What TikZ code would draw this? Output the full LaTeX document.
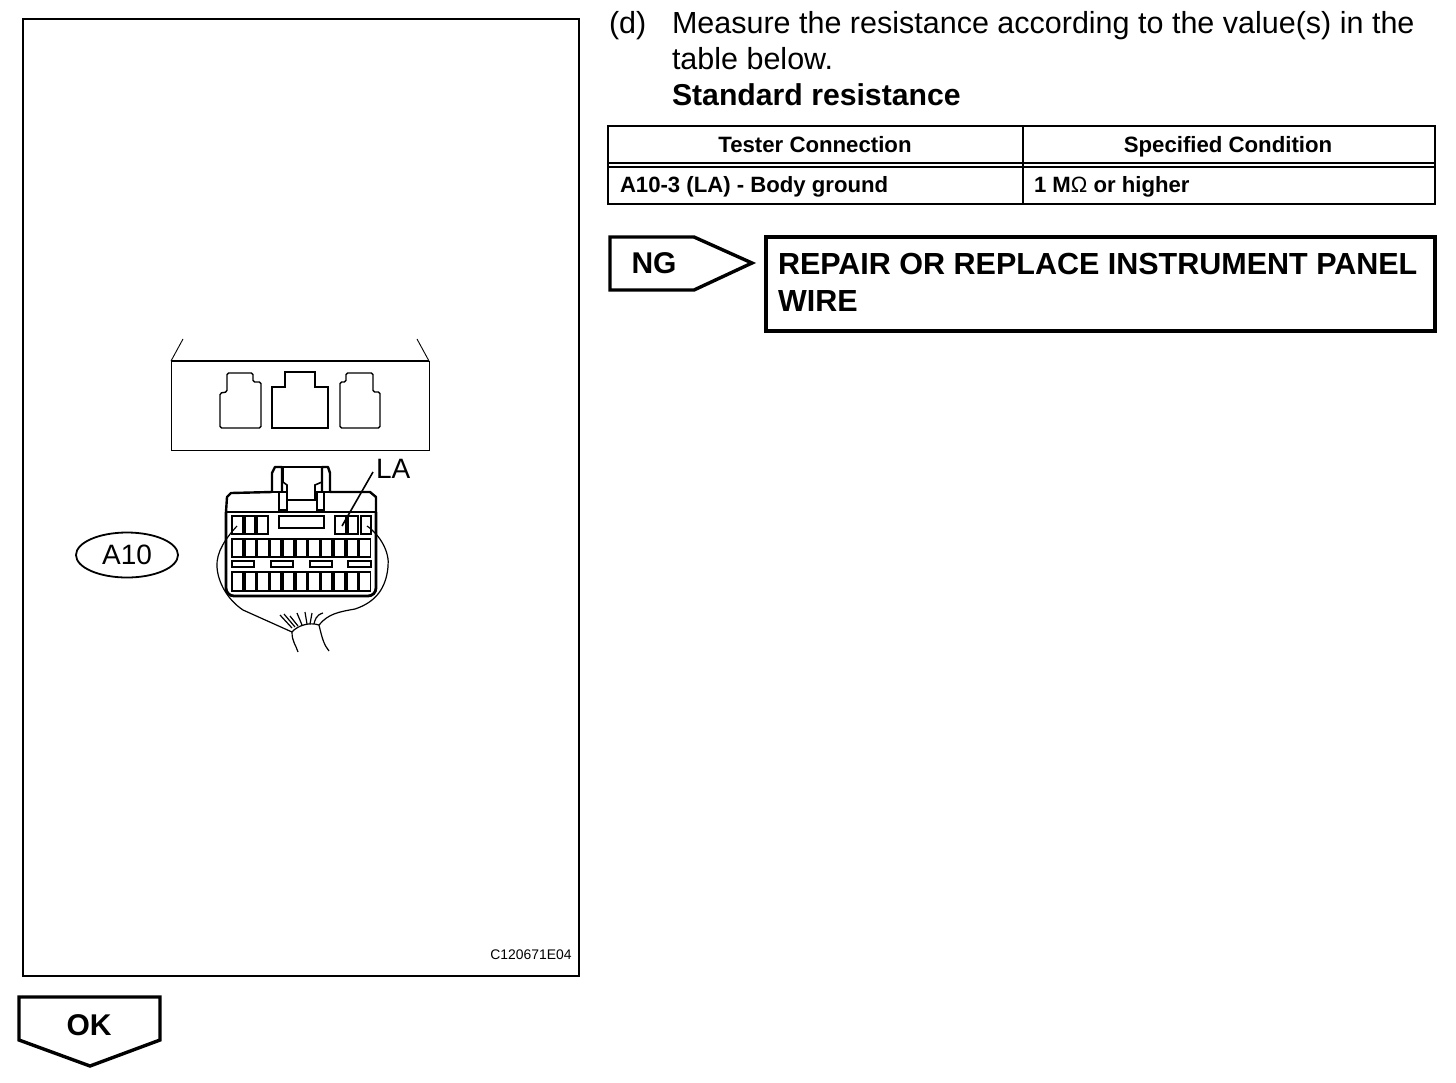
\documentclass[tikz,border=0pt]{standalone}
\usepackage{fontspec}
\setmainfont{Liberation Sans}
\usepackage{tikz}
\usetikzlibrary{positioning,arrows.meta,shapes.geometric}

\tikzset{
  txt/.style={inner sep=0pt, outer sep=0pt, anchor=base west, font=\fontsize{15.25}{18}\selectfont},
  head/.style={inner sep=0pt, outer sep=0pt, anchor=base, font=\fontsize{11.1}{14}\selectfont\bfseries},
  cell/.style={inner sep=0pt, outer sep=0pt, anchor=base west, font=\fontsize{11.07}{14}\selectfont\bfseries},
  big/.style={inner sep=0pt, outer sep=0pt, anchor=base west, font=\fontsize{15.25}{20}\selectfont\bfseries},
  frame/.style={draw, line width=1.4pt},
  heavy/.style={draw, line width=1.7pt},
  rule/.style={draw, line width=1pt},
  pin/.style={draw, line width=0.8pt},
  thin line/.style={draw, line width=0.6pt},
  hair/.style={draw, line width=0.45pt},
}

\begin{document}
\begin{tikzpicture}[x=0.5pt, y=-0.5pt, line join=miter]
\useasboundingbox (0,0) rectangle (1456,1082);

% left panel
\draw[frame] (23,19) rectangle (579,976);
\node[inner sep=0pt, anchor=base east, font=\fontsize{6.95}{8}\selectfont] (code) at (572,959) {C120671E04};

% outer housing
\draw[hair] (171,361) -- (171,450) -- (429,450) -- (429,361);
\draw[rule] (171,361) -- (429,361);
\draw[hair] (171,361) -- (183,339);
\draw[hair] (429,361) -- (417,339);

% sockets
\draw[line width=0.7pt, rounded corners=0.8pt] (220,428) -- (220,393) -- (227,392) -- (227,373) -- (253,373) -- (253,382) -- (261,382) -- (261,428) -- cycle;
\draw[line width=1.4pt] (272,428) -- (272,387) -- (285,387) -- (285,372) -- (315,372) -- (315,387) -- (328,387) -- (328,428) -- cycle;
\draw[line width=0.7pt, rounded corners=0.8pt] (340,428) -- (340,382) -- (346,382) -- (346,373) -- (373,373) -- (373,392) -- (380,392) -- (380,428) -- cycle;

% connector shell
\draw[line width=1.2pt, line join=round] (226,512) -- (227,497) -- (231,493) -- (272,492) -- (272,473) -- (275,467) -- (282,467) -- (282,492);
\draw[line width=1.2pt, line join=round] (376,512) -- (376,497) -- (370,492) -- (330,492) -- (330,473) -- (328,467) -- (322,467) -- (322,492);
\draw[pin] (282,467) -- (322,467);
\draw[pin] (283,467) -- (283,482) -- (287,485) -- (287,500) -- (315,500) -- (315,485) -- (322,482) -- (322,467);
\draw[pin] (272,492) -- (287,492);
\draw[pin] (315,492) -- (330,492);
\draw[pin] (279,492) -- (279,510) -- (287,510) -- (287,492);
\draw[pin] (317,492) -- (317,510) -- (324,510) -- (324,492);
\draw[thin line] (226,512) -- (376,512);
\draw[line width=1.4pt, rounded corners=4pt] (226,512) -- (226,596) -- (376,596) -- (376,512);

% top row of pins
\foreach \xa/\xb in {232/243,245/255,257/268,335/346,348/358,361/371}
  \draw[pin] (\xa,516) rectangle (\xb,534);
\draw[pin] (279,516) rectangle (324,528);

% full rows of pins
\foreach \i in {0,...,10} {
  \draw[pin] ({232+12.75*\i},539) rectangle ({243+12.75*\i},557);
  \draw[pin] ({232+12.75*\i},572) rectangle ({243+12.75*\i},591);
}

% small slots
\foreach \xa/\xb in {232/254,271/293,310/332,348/371}
  \draw[pin] (\xa,561) rectangle (\xb,567);

% harness
\coordinate (wirel) at (237,526);
\coordinate (wirer) at (367,526);
\coordinate (cablel) at (292,632);
\coordinate (cabler) at (319,625);
\draw[thin line] (wirel) .. controls (226,538) and (216,552) .. (217,567) .. controls (218,583) and (228,600) .. (243,610) -- (cablel);
\draw[thin line] (wirer) .. controls (380,535) and (390,552) .. (388,567) .. controls (386,588) and (376,602) .. (355,609) .. controls (338,612) and (328,614) .. (cabler);
\draw[thin line] (cablel) .. controls (298,625) and (310,622) .. (cabler);
\draw[thin line] (cablel) .. controls (292,642) and (296,645) .. (298,652);
\draw[thin line] (cabler) .. controls (322,638) and (324,645) .. (329,651);
\foreach \xa/\ya/\xb/\yb in {280/615/292/628,284/614/295/627,290/616/298/626,297/613/302/625,305/612/307/624,312/613/310/624}
  \draw[thin line] (\xa,\ya) -- (\xb,\yb);
\draw[thin line] (323,613) .. controls (316,615) and (315,620) .. (314,624);

% labels
\node[txt, font=\fontsize{14}{16}\selectfont] (la) at (376,478) {LA};
\coordinate (laend) at (373,472);
\coordinate (lapin) at (342,526);
\draw[pin] (laend) -- (lapin);
\node[ellipse, draw, line width=0.9pt, minimum width=51pt, minimum height=22.5pt, inner sep=0pt, font=\fontsize{14}{16}\selectfont] (a10) at (127,555) {A10};

% ok arrow
\draw[heavy] (19,997) -- (160,997) -- (160,1040) -- (90,1066) -- (19,1040) -- cycle;
\node[inner sep=0pt, anchor=base, font=\fontsize{15}{18}\selectfont\bfseries] (ok) at (89,1035) {OK};

% right column
\node[txt] (d) at (609,33) {(d)};
\node[txt] (line1) at (672,33) {Measure the resistance according to the value(s) in the};
\node[txt] (line2) at (672,69) {table below.};
\node[txt, font=\fontsize{15.1}{18}\selectfont\bfseries] (line3) at (672,105) {Standard resistance};

% table
\draw[rule] (608,126) rectangle (1435,204);
\draw[rule] (608,162.5) -- (1435,162.5);
\draw[rule] (608,166.5) -- (1435,166.5);
\draw[rule] (1023,126) -- (1023,204);
\node[head] (th1) at (815,152) {Tester Connection};
\node[head] (th2) at (1228,152) {Specified Condition};
\node[cell] (td1) at (620,192) {A10-3 (LA) - Body ground};
\node[cell] (td2) at (1034,192) {1 M{\normalfont\fontsize{11.07}{14}\selectfont Ω} or higher};

% ng arrow and box
\draw[heavy] (610,237) -- (694,237) -- (752,263) -- (694,290) -- (610,290) -- cycle;
\node[inner sep=0pt, anchor=base, font=\fontsize{15}{18}\selectfont\bfseries] (ng) at (654,273) {NG};
\draw[heavy] (766,237) rectangle (1435,331);
\node[big] (rep1) at (778,274) {REPAIR OR REPLACE INSTRUMENT PANEL};
\node[big] (rep2) at (778,311) {WIRE};

\end{tikzpicture}
\end{document}
